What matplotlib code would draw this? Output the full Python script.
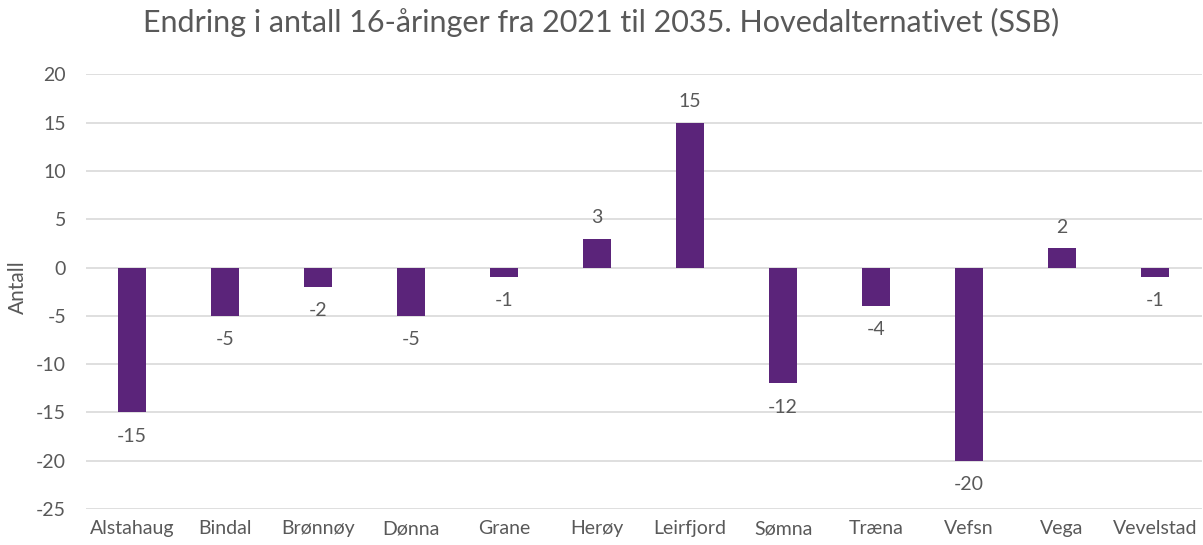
import matplotlib.pyplot as plt
import numpy as np

kommuner = ["Alstahaug", "Bindal", "Brønnøy", "Dønna", "Grane", "Herøy",
            "Leirfjord", "Sømna", "Træna", "Vefsn", "Vega", "Vevelstad"]
endring = [-15, -5, -2, -5, -1, 3, 15, -12, -4, -20, 2, -1]
yticks = [-25, -20, -15, -10, -5, 0, 5, 10, 15, 20]

BAR = "#5b247a"
TEXT = "#595959"
GRID = "#d9d9d9"

plt.rcParams["font.family"] = ["Lato", "DejaVu Sans"]
plt.rcParams["axes.unicode_minus"] = False

fig = plt.figure(figsize=(12.03, 5.45), dpi=100)
ax = fig.add_axes([0.0711, 0.066, 0.9277, 0.7977])

x = np.arange(len(kommuner))
ax.bar(x, endring, width=0.30, color=BAR, zorder=3)

# data labels: above positive bars, below negative ones
for xi, v in zip(x, endring):
    if v >= 0:
        ax.annotate(str(v), (xi, v), xytext=(0, 9), textcoords="offset points",
                    ha="center", va="bottom", fontsize=14, color=TEXT)
    else:
        ax.annotate(str(v), (xi, v), xytext=(0, -11), textcoords="offset points",
                    ha="center", va="top", fontsize=14, color=TEXT)

ax.set_xlim(-0.5, len(kommuner) - 0.5)
ax.set_ylim(-25, 20)
ax.set_yticks(yticks)
ax.set_xticks(x)
ax.set_xticklabels(kommuner)
ax.yaxis.grid(True, color=GRID, linewidth=1.2, zorder=0)
ax.tick_params(axis="both", length=0, labelsize=14, colors=TEXT)
ax.tick_params(axis="x", pad=8)
ax.tick_params(axis="y", pad=14)
for s in ax.spines.values():
    s.set_visible(False)

ax.set_ylabel("Antall", fontsize=15, color=TEXT)
ax.yaxis.set_label_coords(-0.052, 0.51)
fig.suptitle("Endring i antall 16-åringer fra 2021 til 2035. Hovedalternativet (SSB)",
             x=0.5, y=0.985, va="top", fontsize=22, color=TEXT)

fig.savefig("out.png", dpi=100)
